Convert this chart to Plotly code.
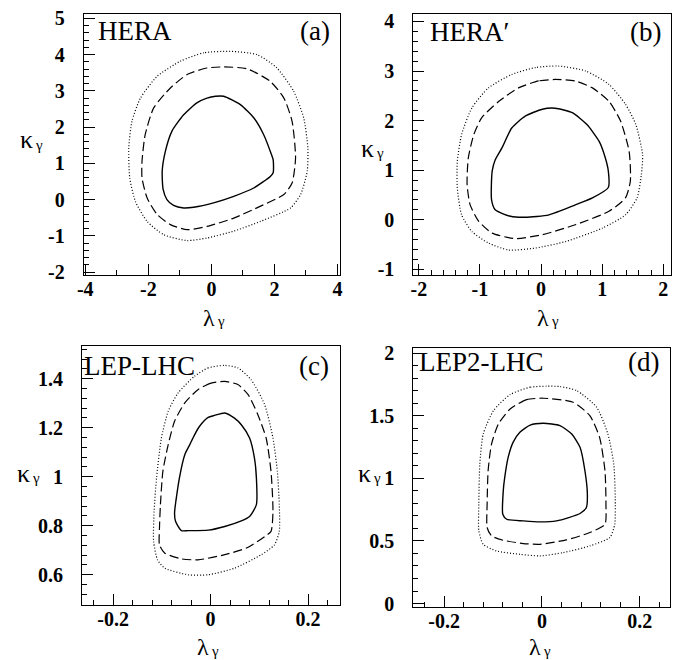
import plotly.graph_objects as go

# ---------------- data (lambda_gamma, kappa_gamma) ----------------
# Panel (a) HERA
A_SOLID_LAM = [0.13, 0.39, 0.92, 1.35, 1.66, 1.87, 1.96, 1.96, 1.87, 1.34, 0.71, 0.07, -0.56, -0.88, -1.20, -1.41, -1.53, -1.56, -1.46, -1.25, -0.88, -0.46, -0.14]
A_SOLID_KAP = [2.85, 2.85, 2.62, 2.25, 1.79, 1.33, 1.10, 0.74, 0.64, 0.32, 0.09, -0.09, -0.21, -0.23, -0.16, 0.00, 0.28, 0.78, 1.33, 1.89, 2.34, 2.67, 2.80]
A_DASH_LAM = [0.39, -0.14, -0.77, -1.30, -1.83, -2.10, -2.20, -2.20, -2.04, -1.72, -1.30, -0.77, -0.14, 0.71, 1.56, 2.30, 2.56, 2.67, 2.56, 2.30, 1.87, 1.13]
A_DASH_KAP = [3.66, 3.63, 3.45, 3.08, 2.53, 1.79, 1.06, 0.60, 0.05, -0.41, -0.69, -0.83, -0.74, -0.51, -0.18, 0.14, 0.46, 1.15, 2.16, 2.80, 3.26, 3.61]
A_DOT_LAM = [0.60, -0.24, -0.98, -1.72, -2.25, -2.52, -2.62, -2.59, -2.41, -2.04, -1.51, -0.77, -0.14, 0.71, 1.56, 2.51, 2.83, 3.04, 3.06, 2.93, 2.61, 2.08, 1.45]
A_DOT_KAP = [4.09, 4.05, 3.82, 3.40, 2.80, 2.16, 1.43, 0.60, -0.05, -0.60, -0.97, -1.13, -1.06, -0.87, -0.60, -0.23, 0.14, 0.78, 1.43, 2.25, 2.99, 3.63, 4.00]

# Panel (b) HERA'
B_SOLID_LAM = [0.23, 0.02, -0.26, -0.48, -0.64, -0.75, -0.80, -0.81, -0.75, -0.50, -0.26, 0.13, 0.56, 0.84, 1.10, 1.10, 1.05, 0.95, 0.75, 0.51]
B_SOLID_KAP = [2.25, 2.23, 2.09, 1.85, 1.45, 1.21, 0.98, 0.40, 0.20, 0.07, 0.05, 0.10, 0.30, 0.44, 0.65, 0.98, 1.25, 1.58, 1.92, 2.16]
B_DASH_LAM = [0.23, -0.04, -0.37, -0.69, -0.97, -1.10, -1.19, -1.21, -1.16, -1.02, -0.80, -0.42, 0.02, 0.56, 1.11, 1.38, 1.46, 1.44, 1.30, 1.11, 0.84, 0.56]
B_DASH_KAP = [2.83, 2.80, 2.66, 2.39, 2.06, 1.72, 1.25, 0.71, 0.30, -0.03, -0.27, -0.38, -0.30, -0.10, 0.17, 0.44, 0.78, 1.38, 1.99, 2.39, 2.66, 2.80]
B_DOT_LAM = [0.29, -0.09, -0.48, -0.86, -1.13, -1.30, -1.37, -1.37, -1.30, -1.13, -0.86, -0.53, -0.09, 0.40, 1.00, 1.38, 1.57, 1.64, 1.66, 1.55, 1.38, 1.11, 0.73]
B_DOT_KAP = [3.10, 3.07, 2.93, 2.66, 2.26, 1.72, 1.18, 0.64, 0.10, -0.24, -0.47, -0.61, -0.57, -0.44, -0.17, 0.10, 0.44, 0.91, 1.31, 1.92, 2.33, 2.73, 3.00]

# Panel (c) LEP-LHC
C_SOLID_LAM = [0.029, 0.008, -0.005, -0.023, -0.033, -0.043, -0.053, -0.064, -0.074, -0.072, -0.060, -0.046, -0.005, 0.029, 0.063, 0.080, 0.094, 0.094, 0.090, 0.080, 0.063, 0.049]
C_SOLID_KAP = [1.260, 1.250, 1.242, 1.205, 1.171, 1.130, 1.090, 0.995, 0.852, 0.818, 0.780, 0.780, 0.782, 0.797, 0.820, 0.838, 0.886, 0.995, 1.076, 1.158, 1.212, 1.239]
C_DASH_LAM = [0.029, 0.001, -0.026, -0.053, -0.074, -0.087, -0.098, -0.103, -0.105, -0.105, -0.094, -0.060, -0.026, 0.029, 0.077, 0.111, 0.124, 0.128, 0.124, 0.114, 0.097, 0.077, 0.056]
C_DASH_KAP = [1.389, 1.382, 1.355, 1.301, 1.226, 1.131, 1.022, 0.886, 0.790, 0.722, 0.688, 0.665, 0.661, 0.682, 0.712, 0.756, 0.777, 0.858, 1.022, 1.158, 1.253, 1.335, 1.376]
C_DOT_LAM = [0.029, -0.005, -0.033, -0.067, -0.087, -0.101, -0.111, -0.116, -0.117, -0.109, -0.094, -0.046, -0.005, 0.049, 0.104, 0.131, 0.141, 0.141, 0.137, 0.128, 0.111, 0.083, 0.056]
C_DOT_KAP = [1.454, 1.444, 1.410, 1.341, 1.267, 1.158, 0.995, 0.858, 0.736, 0.661, 0.627, 0.600, 0.600, 0.627, 0.682, 0.722, 0.777, 0.886, 1.022, 1.158, 1.294, 1.396, 1.444]

# Panel (d) LEP2-LHC
D_SOLID_LAM = [0.003, -0.024, -0.045, -0.059, -0.069, -0.076, -0.079, -0.080, -0.072, -0.038, -0.004, 0.030, 0.078, 0.091, 0.093, 0.088, 0.078, 0.061, 0.037]
D_SOLID_KAP = [1.439, 1.425, 1.367, 1.287, 1.167, 1.007, 0.900, 0.713, 0.673, 0.660, 0.652, 0.660, 0.719, 0.767, 0.873, 1.060, 1.247, 1.353, 1.420]
D_DASH_LAM = [0.003, -0.031, -0.065, -0.089, -0.103, -0.110, -0.112, -0.112, -0.103, -0.079, -0.038, -0.004, 0.050, 0.098, 0.129, 0.131, 0.129, 0.118, 0.098, 0.064]
D_DASH_KAP = [1.639, 1.628, 1.553, 1.433, 1.273, 1.060, 0.793, 0.607, 0.540, 0.505, 0.479, 0.473, 0.508, 0.567, 0.633, 0.793, 1.060, 1.327, 1.500, 1.607]
D_DOT_LAM = [0.010, -0.024, -0.065, -0.099, -0.120, -0.127, -0.129, -0.129, -0.120, -0.093, -0.045, -0.004, 0.044, 0.098, 0.139, 0.149, 0.150, 0.147, 0.135, 0.112, 0.071, 0.037]
D_DOT_KAP = [1.735, 1.727, 1.668, 1.540, 1.353, 1.113, 0.793, 0.580, 0.473, 0.420, 0.393, 0.380, 0.407, 0.460, 0.527, 0.633, 0.847, 1.113, 1.353, 1.567, 1.700, 1.732]

PANEL_NAMES = ["HERA", "HERA′", "LEP-LHC", "LEP2-LHC"]
PANEL_TAGS = ["(a)", "(b)", "(c)", "(d)"]
X_TITLE = "λ"
Y_TITLE = "κ"
SUBSCRIPT = "γ"

A_XTICKS = [-4, -2, 0, 2, 4]
A_XTEXT = ["-4", "-2", "0", "2", "4"]
A_YTICKS = [-2, -1, 0, 1, 2, 3, 4, 5]
A_YTEXT = ["-2", "-1", "0", "1", "2", "3", "4", "5"]
B_XTICKS = [-2, -1, 0, 1, 2]
B_XTEXT = ["-2", "-1", "0", "1", "2"]
B_YTICKS = [-1, 0, 1, 2, 3, 4]
B_YTEXT = ["-1", "0", "1", "2", "3", "4"]
C_XTICKS = [-0.2, 0, 0.2]
C_XTEXT = ["-0.2", "0", "0.2"]
C_YTICKS = [0.6, 0.8, 1.0, 1.2, 1.4]
C_YTEXT = ["0.6", "0.8", "1", "1.2", "1.4"]
D_XTICKS = [-0.2, 0, 0.2]
D_XTEXT = ["-0.2", "0", "0.2"]
D_YTICKS = [0, 0.5, 1, 1.5, 2]
D_YTEXT = ["0", "0.5", "1", "1.5", "2"]

# ---------------- figure ----------------
W, H = 684, 660
SERIF = "Liberation Serif"

# label positions in pixels: lam = (right edge, top), lsub = (left edge, top),
# kap = (right edge, middle), ksub = (left edge, middle)
panels = [
    dict(curves=[(A_SOLID_LAM, A_SOLID_KAP), (A_DASH_LAM, A_DASH_KAP), (A_DOT_LAM, A_DOT_KAP)],
         px=(75.7, 332.0), py=(6.0, 267.0), xr=[-4.05, 4.08], yr=[-2.08, 5.12],
         xt=(A_XTICKS, A_XTEXT), yt=(A_YTICKS, A_YTEXT), xminor=1, yminor=0.2,
         lam=(208, 296), lsub=(208, 304), kap=(26, 132), ksub=(26, 137),
         name=(89, 23), tag=(323, 23)),
    dict(curves=[(B_SOLID_LAM, B_SOLID_KAP), (B_DASH_LAM, B_DASH_KAP), (B_DOT_LAM, B_DOT_KAP)],
         px=(405.3, 662.7), py=(6.0, 267.3), xr=[-2.09, 2.12], yr=[-1.12, 4.15],
         xt=(B_XTICKS, B_XTEXT), yt=(B_YTICKS, B_YTEXT), xminor=0.2, yminor=0.2,
         lam=(542, 296), lsub=(542, 304), kap=(367, 140), ksub=(367, 145),
         name=(421, 24), tag=(654, 24)),
    dict(curves=[(C_SOLID_LAM, C_SOLID_KAP), (C_DASH_LAM, C_DASH_KAP), (C_DOT_LAM, C_DOT_KAP)],
         px=(74.0, 331.7), py=(338.3, 596.7), xr=[-0.264, 0.265], yr=[0.478, 1.532],
         xt=(C_XTICKS, C_XTEXT), yt=(C_YTICKS, C_YTEXT), xminor=0.04, yminor=0.04,
         lam=(202, 625), lsub=(202, 634), kap=(23, 465), ksub=(23, 470),
         name=(75, 358), tag=(322, 358)),
    dict(curves=[(D_SOLID_LAM, D_SOLID_KAP), (D_DASH_LAM, D_DASH_KAP), (D_DOT_LAM, D_DOT_KAP)],
         px=(405.3, 662.0), py=(340.0, 599.3), xr=[-0.263, 0.262], yr=[-0.03, 2.04],
         xt=(D_XTICKS, D_XTEXT), yt=(D_YTICKS, D_YTEXT), xminor=0.04, yminor=0.1,
         lam=(534, 625), lsub=(534, 634), kap=(364, 465), ksub=(364, 470),
         name=(410, 354), tag=(652, 354)),
]

styles = [
    dict(color="black", width=1.4, dash="solid"),
    dict(color="black", width=1.2, dash="9px,4px"),
    dict(color="black", width=1.2, dash="1px,2px"),
]

fig = go.Figure()
annotations = []
layout_axes = {}


def ann(text, pos, size, xanchor="center", yanchor="middle"):
    return dict(text=text, x=pos[0] / W, y=1 - pos[1] / H, xref="paper", yref="paper",
                xanchor=xanchor, yanchor=yanchor, showarrow=False, borderpad=0,
                font=dict(family=SERIF, size=size, color="black"))


for i, p in enumerate(panels):
    n = "" if i == 0 else str(i + 1)
    xa, ya = "x" + n, "y" + n
    for (lam, kap), st in zip(p["curves"], styles):
        fig.add_trace(go.Scatter(
            x=list(lam) + [lam[0]], y=list(kap) + [kap[0]],
            mode="lines", line=dict(shape="spline", smoothing=0.6, **st),
            xaxis=xa, yaxis=ya, showlegend=False, hoverinfo="skip"))

    xdom = [p["px"][0] / W, p["px"][1] / W]
    ydom = [1 - p["py"][1] / H, 1 - p["py"][0] / H]
    tickfont = dict(family=SERIF, size=20, color="black", weight="bold")
    common = dict(showgrid=False, zeroline=False, showline=True, linecolor="black",
                  linewidth=1, mirror=True, ticks="inside", ticklen=11, tickwidth=1,
                  tickcolor="black", automargin=False, tickfont=tickfont,
                  ticklabeloverflow="allow")
    layout_axes["xaxis" + n] = dict(
        common, domain=xdom, range=p["xr"], anchor=ya, ticklabelstandoff=-4,
        tickmode="array", tickvals=p["xt"][0], ticktext=p["xt"][1],
        minor=dict(ticks="inside", ticklen=5, tickwidth=1, tickcolor="black",
                   dtick=p["xminor"], tick0=0))
    layout_axes["yaxis" + n] = dict(
        common, domain=ydom, range=p["yr"], anchor=xa, ticklabelstandoff=14,
        tickmode="array", tickvals=p["yt"][0], ticktext=p["yt"][1],
        minor=dict(ticks="inside", ticklen=5, tickwidth=1, tickcolor="black",
                   dtick=p["yminor"], tick0=0))

    annotations += [
        ann(X_TITLE, p["lam"], 24, "right", "top"),
        ann(SUBSCRIPT, p["lsub"], 15, "left", "top"),
        ann(Y_TITLE, p["kap"], 26, "right", "middle"),
        ann(SUBSCRIPT, p["ksub"], 15, "left", "middle"),
        ann(PANEL_NAMES[i], p["name"], 27, "left"),
        ann(PANEL_TAGS[i], p["tag"], 27, "right"),
    ]

fig.update_layout(
    width=W, height=H, margin=dict(l=0, r=0, t=0, b=0),
    paper_bgcolor="white", plot_bgcolor="white",
    annotations=annotations, showlegend=False, **layout_axes)

fig.write_html("out.html")
